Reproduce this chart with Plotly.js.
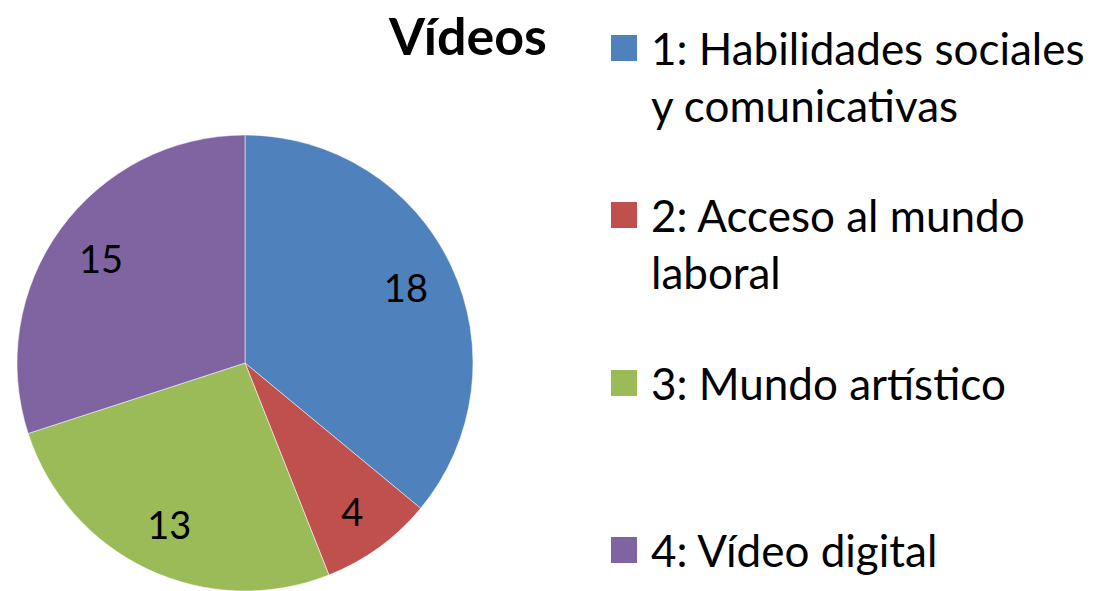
<!DOCTYPE html>
<html>
<head>
<meta charset="utf-8">
<script src="https://cdn.plot.ly/plotly-3.0.1.min.js"></script>
<style>html,body{margin:0;padding:0;background:#fff;}#chart{width:1093px;height:591px;}</style>
</head>
<body>
<div id="chart"></div>
<script>
const chartTitle = "Vídeos";
const categories = ["1: Habilidades sociales", "2: Acceso al mundo", "3: Mundo artístico", "4: Vídeo digital"];
const legendLines = [["1: Habilidades sociales", "y comunicativas"], ["2: Acceso al mundo", "laboral"], ["3: Mundo artístico"], ["4: Vídeo digital"]];
const values = [18, 4, 13, 15];
const colors = ["#4F81BD", "#C0504D", "#9BBB59", "#8064A2"];

const FONT = "Lato, 'Open Sans', sans-serif";
const W = 1093, H = 591;
const dom = {x: [15 / W, 475 / W], y: [0, 456 / H]};

const pie = {
  type: "pie",
  labels: categories,
  values: values,
  sort: false,
  direction: "clockwise",
  rotation: 0,
  marker: {colors: colors, line: {color: "rgba(255,255,255,0.5)", width: 1}},
  textinfo: "none",
  hoverinfo: "label+value",
  domain: dom,
  showlegend: false
};
// transparent ring used only to place the value labels further out, as in the original
const labelsRing = {
  type: "pie",
  labels: categories,
  values: values,
  sort: false,
  direction: "clockwise",
  rotation: 0,
  hole: 0.56,
  marker: {colors: ["rgba(0,0,0,0)", "rgba(0,0,0,0)", "rgba(0,0,0,0)", "rgba(0,0,0,0)"], line: {width: 0}},
  textinfo: "value",
  textposition: "inside",
  insidetextorientation: "horizontal",
  insidetextfont: {family: FONT, size: 38, color: "#000"},
  hoverinfo: "skip",
  domain: dom,
  showlegend: false
};

const annotations = [{
  text: "<b>" + chartTitle + "</b>",
  xref: "paper", yref: "paper", x: 467 / W, y: 1 - 35 / H,
  xanchor: "center", yanchor: "middle", showarrow: false,
  font: {family: FONT, size: 52, color: "#000"}
}];
const shapes = [];
const slotTop = [25, 192, 360, 527];
const lineH = 57;
legendLines.forEach((lines, i) => {
  const top = slotTop[i];
  shapes.push({
    type: "rect", xref: "paper", yref: "paper",
    x0: 611 / W, x1: 637 / W, y0: 1 - (top + 10) / H, y1: 1 - (top + 36) / H,
    fillcolor: colors[i], line: {width: 0}
  });
  lines.forEach((ln, j) => {
    annotations.push({
      text: ln, xref: "paper", yref: "paper",
      x: 649 / W, y: 1 - (top + 23 + j * lineH) / H,
      xanchor: "left", yanchor: "middle", showarrow: false,
      font: {family: FONT, size: 44, color: "#000"}
    });
  });
});

const layout = {
  width: W, height: H,
  margin: {l: 0, r: 0, t: 0, b: 0},
  paper_bgcolor: "#fff",
  plot_bgcolor: "#fff",
  showlegend: false,
  annotations: annotations,
  shapes: shapes,
  font: {family: FONT}
};

Plotly.newPlot("chart", [pie, labelsRing], layout, {displayModeBar: false, staticPlot: true});
</script>
</body>
</html>
